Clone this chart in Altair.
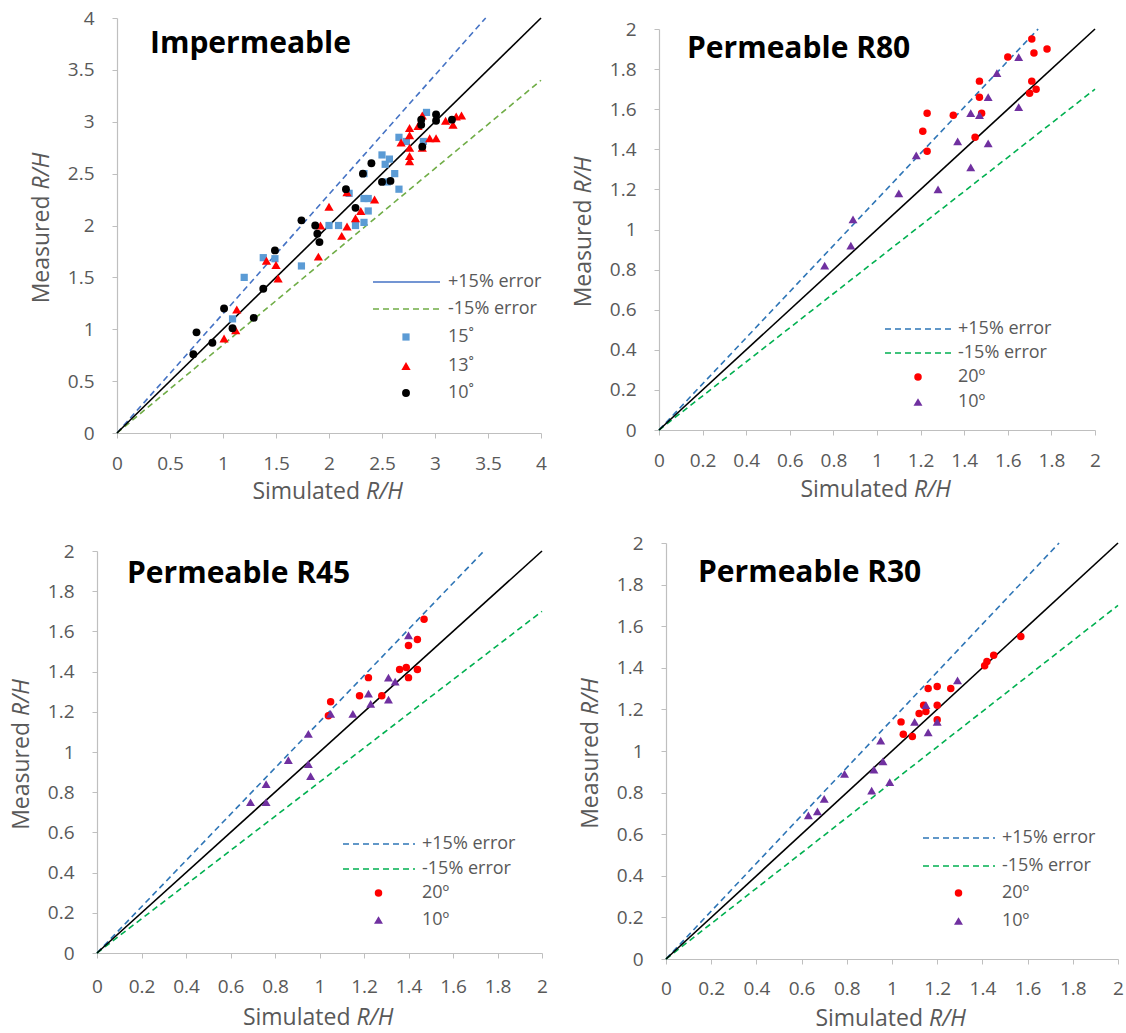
import altair as alt
import pandas as pd

FONT = "Open Sans"
GREY = "#595959"

# ---------------- data: simulated vs measured R/H ----------------
# Impermeable slope
imp15_sim = [1.20, 1.38, 1.49, 1.74, 1.09, 2.00, 2.09, 2.25, 2.33, 2.37, 2.33, 2.37,
             2.19, 2.33, 2.50, 2.53, 2.57, 2.55, 2.62, 2.66, 2.66, 2.73, 2.92, 2.89]
imp15_meas = [1.50, 1.69, 1.68, 1.61, 1.10, 2.00, 2.00, 2.00, 2.03, 2.14, 2.26, 2.26,
              2.31, 2.50, 2.68, 2.59, 2.64, 2.42, 2.50, 2.35, 2.85, 2.81, 3.09, 2.81]
imp13_sim = [1.01, 1.12, 1.13, 1.41, 1.50, 1.52, 1.90, 1.92, 2.00, 2.12, 2.17, 2.17, 2.25, 2.30, 2.43,
             2.68, 2.76, 2.76, 2.76, 2.76, 2.76, 2.84, 2.88, 2.88, 2.95, 3.01, 3.10, 3.17, 3.20, 3.25]
imp13_meas = [0.91, 0.99, 1.19, 1.66, 1.62, 1.49, 1.70, 2.00, 2.18, 1.90, 1.99, 2.32, 2.07, 2.14, 2.25,
              2.80, 2.94, 2.87, 2.75, 2.67, 2.62, 2.96, 3.06, 2.75, 2.84, 2.84, 3.01, 2.97, 3.05, 3.06]
imp10_sim = [0.72, 0.75, 0.90, 1.01, 1.09, 1.29, 1.38, 1.49, 1.74, 1.87, 1.89, 1.91,
             2.16, 2.25, 2.32, 2.40, 2.50, 2.58, 2.87, 2.87, 2.88, 3.01, 3.01, 3.16]
imp10_meas = [0.76, 0.97, 0.87, 1.20, 1.01, 1.11, 1.39, 1.76, 2.05, 2.00, 1.92, 1.84,
              2.35, 2.17, 2.50, 2.60, 2.42, 2.43, 2.97, 3.02, 2.76, 3.07, 3.01, 3.02]

# Permeable R80
r80_20_sim = [1.71, 1.72, 1.78, 1.60, 1.47, 1.71, 1.73, 1.70, 1.47, 1.23, 1.35, 1.48, 1.21, 1.23, 1.45]
r80_20_meas = [1.95, 1.88, 1.90, 1.86, 1.74, 1.74, 1.70, 1.68, 1.66, 1.58, 1.57, 1.58, 1.49, 1.39, 1.46]
r80_10_sim = [1.65, 1.55, 1.51, 1.43, 1.47, 1.65, 1.37, 1.51, 1.18, 1.43, 1.28, 1.10, 0.89, 0.88, 0.76]
r80_10_meas = [1.86, 1.78, 1.66, 1.58, 1.57, 1.61, 1.44, 1.43, 1.37, 1.31, 1.20, 1.18, 1.05, 0.92, 0.82]

# Permeable R45
r45_20_sim = [1.47, 1.44, 1.40, 1.36, 1.39, 1.44, 1.40, 1.22, 1.18, 1.28, 1.05, 1.04]
r45_20_meas = [1.66, 1.56, 1.53, 1.41, 1.42, 1.41, 1.37, 1.37, 1.28, 1.28, 1.25, 1.18]
r45_10_sim = [1.40, 1.31, 1.34, 1.22, 1.23, 1.31, 1.05, 1.15, 0.95, 0.86, 0.95, 0.96, 0.76, 0.76, 0.69]
r45_10_meas = [1.58, 1.37, 1.35, 1.29, 1.24, 1.26, 1.19, 1.19, 1.09, 0.96, 0.94, 0.88, 0.84, 0.75, 0.75]

# Permeable R30
r30_20_sim = [1.57, 1.45, 1.42, 1.41, 1.16, 1.20, 1.26, 1.14, 1.20, 1.12, 1.15, 1.20, 1.04, 1.05, 1.09]
r30_20_meas = [1.55, 1.46, 1.43, 1.41, 1.30, 1.31, 1.30, 1.22, 1.22, 1.18, 1.19, 1.15, 1.14, 1.08, 1.07]
r30_10_sim = [1.29, 1.15, 1.10, 1.20, 1.16, 0.95, 0.96, 0.92, 0.79, 0.70, 0.91, 0.99, 0.67, 0.63]
r30_10_meas = [1.34, 1.22, 1.14, 1.14, 1.09, 1.05, 0.95, 0.91, 0.89, 0.77, 0.81, 0.85, 0.71, 0.69]

# axis ticks
ticks_imp = [0, 0.5, 1, 1.5, 2, 2.5, 3, 3.5, 4]
ticks_perm = [0, 0.2, 0.4, 0.6, 0.8, 1, 1.2, 1.4, 1.6, 1.8, 2]

# error band ratios drawn as reference lines
ratio_exact = 1.0
ratio_plus = 1.15
ratio_minus = 0.85

labels_imp = ["+15% error", "-15% error", "15˚", "13˚", "10˚"]
labels_perm = ["+15% error", "-15% error", "20º", "10º"]

COL_SQ = "#5B9BD5"
COL_RED = "#FF0000"
COL_BLACK = "#000000"
COL_PURPLE = "#7030A0"

SZ_SQ, SZ_TRI, SZ_CIR = 52, 85, 62
SZ_CIR2, SZ_TRI2 = 56, 80


def text_layer(txt, x, y, size, color, weight="normal", style="normal", align="left",
               baseline="alphabetic", angle=0):
    return alt.Chart(pd.DataFrame({"t": [txt]})).mark_text(
        font=FONT, fontSize=size, color=color, fontWeight=weight, fontStyle=style,
        align=align, baseline=baseline, angle=angle,
    ).encode(x=alt.value(x), y=alt.value(y), text="t:N")


def panel(title, title_pos, width, height, xr, yr, dmax, ticks, series, lines_col,
          legend, label_pad_x, xtitle_gap):
    x0, x1 = xr
    y0, y1 = yr
    axis_common = dict(
        values=ticks, format="~g", title=None, grid=False,
        domainColor="#BFBFBF", tickColor="#BFBFBF", tickSize=5, domainWidth=1.2,
        labelFont=FONT, labelFontSize=19, labelColor=GREY, labelFlush=False,
        labelOverlap=False,
    )
    xenc = alt.X("sim:Q", scale=alt.Scale(domain=[0, dmax], range=[x0, x1], nice=False),
                 axis=alt.Axis(offset=-(height - y0), labelPadding=label_pad_x, **axis_common))
    yenc = alt.Y("meas:Q", scale=alt.Scale(domain=[0, dmax], range=[y0, y1], nice=False),
                 axis=alt.Axis(offset=-x0, labelPadding=18, **axis_common))

    layers = []
    # reference lines: +15 %, -15 %, 1:1
    plus_col, minus_col = lines_col
    for ratio, col, dash in [(ratio_plus, plus_col, [6, 4]),
                             (ratio_minus, minus_col, [6, 4]),
                             (ratio_exact, COL_BLACK, None)]:
        xe = min(dmax, dmax / ratio)
        df = pd.DataFrame({"sim": [0, xe], "meas": [0, xe * ratio]})
        kw = dict(color=col, strokeWidth=1.6)
        if dash:
            kw["strokeDash"] = dash
        layers.append(alt.Chart(df).mark_line(**kw).encode(x=xenc, y=yenc))

    # measured points
    for sx, sy, shape, col, size in series:
        df = pd.DataFrame({"sim": sx, "meas": sy})
        layers.append(alt.Chart(df).mark_point(
            filled=True, shape=shape, color=col, size=size, opacity=1
        ).encode(x=xenc, y=yenc))

    # panel title
    layers.append(text_layer(title, title_pos[0], title_pos[1], 30, "black", weight="bold"))

    # axis titles with italic R/H
    cx = (x0 + x1) / 2
    cy = (y0 + y1) / 2
    ty = y0 + xtitle_gap
    layers.append(text_layer("Simulated", cx + 31, ty, 23, GREY, align="right", baseline="middle"))
    layers.append(text_layer("R/H", cx + 37, ty, 23, GREY, style="italic", baseline="middle"))
    tx = x0 - 75
    layers.append(text_layer("Measured", tx, cy - 30, 23, GREY, align="right",
                             baseline="middle", angle=270))
    layers.append(text_layer("R/H", tx, cy - 36, 23, GREY, style="italic",
                             baseline="middle", angle=270))

    # legend
    lx0, lx1, ltext, rows, items = legend
    for (lab, kind), ry in zip(items, rows):
        if kind[0] == "line":
            _, col, dash = kind
            kw = dict(color=col, strokeWidth=1.6)
            if dash:
                kw["strokeDash"] = dash
            layers.append(alt.Chart(pd.DataFrame({"a": [0]})).mark_rule(**kw).encode(
                x=alt.value(lx0), x2=alt.value(lx1), y=alt.value(ry)))
        else:
            _, shape, col, size = kind
            layers.append(alt.Chart(pd.DataFrame({"a": [0]})).mark_point(
                filled=True, shape=shape, color=col, size=size, opacity=1
            ).encode(x=alt.value((lx0 + lx1) / 2 - 0.5), y=alt.value(ry)))
        layers.append(text_layer(lab, ltext, ry, 18, GREY, baseline="middle"))

    return alt.layer(*layers).properties(width=width, height=height)


PL1, MI1 = "#4472C4", "#70AD47"
PL2, MI2 = "#2E75B6", "#00B050"

perm_keys = [("line", PL2, [6, 4]), ("line", MI2, [6, 4]),
             ("pt", "circle", COL_RED, SZ_CIR2), ("pt", "triangle-up", COL_PURPLE, SZ_TRI2)]

p1 = panel(
    "Impermeable", (150, 53), 563, 517, (117, 541), (433, 18), 4, ticks_imp,
    [(imp15_sim, imp15_meas, "square", COL_SQ, SZ_SQ),
     (imp13_sim, imp13_meas, "triangle-up", COL_RED, SZ_TRI),
     (imp10_sim, imp10_meas, "circle", COL_BLACK, SZ_CIR)],
    (PL1, MI1),
    (373, 440, 448, [282, 309, 337, 366, 393],
     list(zip(labels_imp, [("line", PL1, None), ("line", MI1, [6, 4]),
                           ("pt", "square", COL_SQ, SZ_SQ), ("pt", "triangle-up", COL_RED, SZ_TRI),
                           ("pt", "circle", COL_BLACK, SZ_CIR)]))),
    16, 59,
)

p2 = panel(
    "Permeable R80", (124, 58), 563, 517, (96, 532), (430, 29), 2, ticks_perm,
    [(r80_20_sim, r80_20_meas, "circle", COL_RED, SZ_CIR2),
     (r80_10_sim, r80_10_meas, "triangle-up", COL_PURPLE, SZ_TRI2)],
    (PL2, MI2),
    (322, 389, 395, [329, 353, 377, 402], list(zip(labels_perm, perm_keys))),
    16, 60,
)

p3 = panel(
    "Permeable R45", (127, 66), 563, 516, (97, 542), (436, 34), 2, ticks_perm,
    [(r45_20_sim, r45_20_meas, "circle", COL_RED, SZ_CIR2),
     (r45_10_sim, r45_10_meas, "triangle-up", COL_PURPLE, SZ_TRI2)],
    (PL2, MI2),
    (343, 415, 422, [327, 352, 376, 403], list(zip(labels_perm, perm_keys))),
    19, 65,
)

p4 = panel(
    "Permeable R30", (135, 65), 563, 516, (103, 555), (442, 26), 2, ticks_perm,
    [(r30_20_sim, r30_20_meas, "circle", COL_RED, SZ_CIR2),
     (r30_10_sim, r30_10_meas, "triangle-up", COL_PURPLE, SZ_TRI2)],
    (PL2, MI2),
    (360, 432, 439, [321, 349, 376, 404], list(zip(labels_perm, perm_keys))),
    15, 60,
)

chart = alt.vconcat(
    alt.hconcat(p1, p2, spacing=0),
    alt.hconcat(p3, p4, spacing=0),
    spacing=0,
).properties(padding=0, background="white").configure_view(stroke=None)

chart.save("out.html", embed_options={"renderer": "svg", "actions": False})
